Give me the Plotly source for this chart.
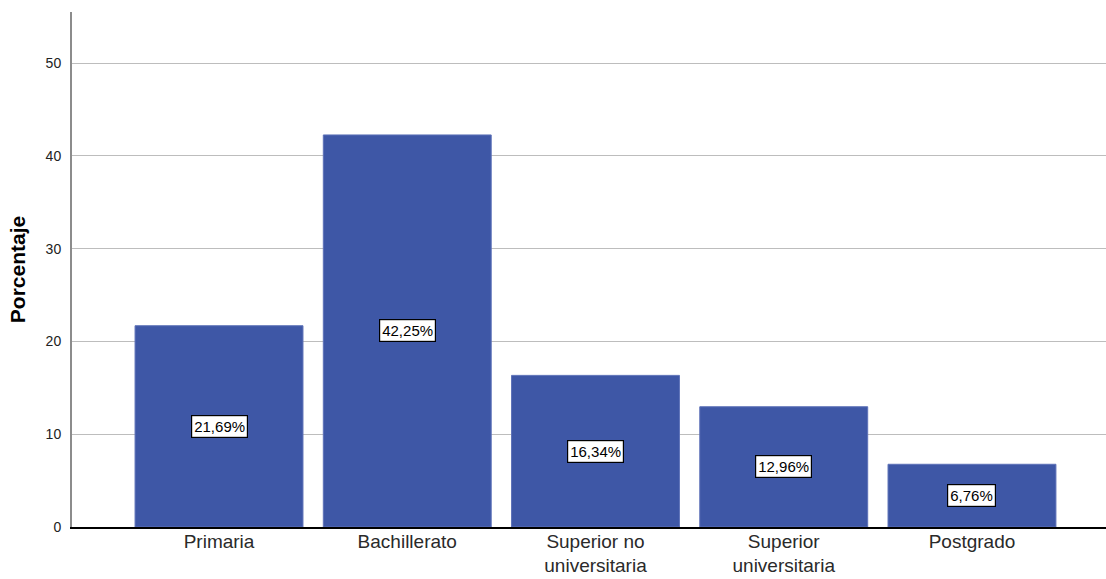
import plotly.graph_objects as go

# Nivel educativo: porcentaje de casos por categoría
categorias = ["Primaria", "Bachillerato", "Superior no<br>universitaria",
              "Superior<br>universitaria", "Postgrado"]
porcentajes = [21.69, 42.25, 16.34, 12.96, 6.76]
y_ticks = [0, 10, 20, 30, 40, 50]

FONT = "Arial, Liberation Sans, sans-serif"
BAR_COLOR = "#3E57A6"

x_idx = list(range(len(categorias)))

fig = go.Figure()
fig.add_trace(go.Bar(
    x=x_idx,
    y=porcentajes,
    width=0.892,
    marker=dict(color=BAR_COLOR, line=dict(color="#5E72B8", width=1)),
    hoverinfo="skip",
))

# Etiquetas de porcentaje en el centro de cada barra
for xi, v in zip(x_idx, porcentajes):
    fig.add_annotation(
        x=xi, y=v / 2,
        text=f"{v:.2f}%".replace(".", ","),
        showarrow=False,
        font=dict(family=FONT, size=15, color="black"),
        bgcolor="white",
        bordercolor="black",
        borderwidth=1.2,
        borderpad=2,
    )

fig.update_layout(
    width=1106,
    height=579,
    margin=dict(l=72, r=0, t=12, b=52),
    paper_bgcolor="white",
    plot_bgcolor="white",
    showlegend=False,
    font=dict(family=FONT, color="black"),
    xaxis=dict(
        range=[-0.781, 4.712],
        tickmode="array",
        tickvals=x_idx,
        ticktext=categorias,
        tickfont=dict(family=FONT, size=19, color="#2a2a2a"),
        showgrid=False,
        showline=True,
        linecolor="black",
        linewidth=1.5,
        ticks="",
        ticklabelstandoff=-4,
        zeroline=False,
        automargin=False,
    ),
    yaxis=dict(
        range=[0, 55.5],
        tickmode="array",
        tickvals=y_ticks,
        tickfont=dict(family=FONT, size=14, color="#222222"),
        showgrid=True,
        gridcolor="#BDBDBD",
        gridwidth=1,
        showline=True,
        linecolor="#8C8C8C",
        linewidth=2,
        ticks="",
        ticklabelstandoff=6,
        zeroline=False,
        automargin=False,
        title=dict(text="<b>Porcentaje</b>",
                   font=dict(family=FONT, size=21, color="black"),
                   standoff=14),
    ),
)

fig.write_html("out.html")
